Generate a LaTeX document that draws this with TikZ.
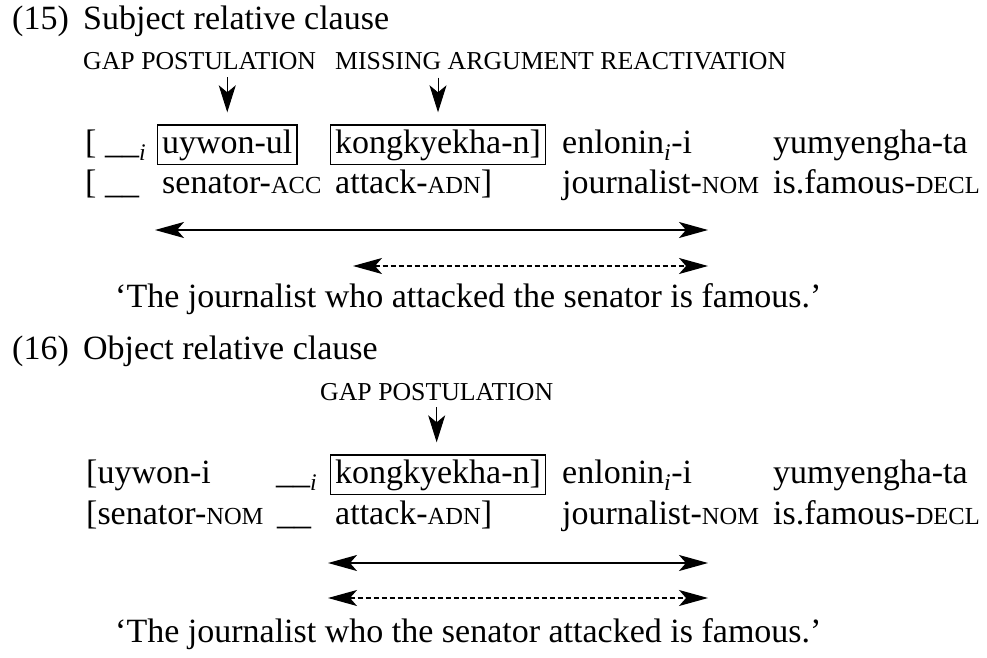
\documentclass[tikz,border=0pt]{standalone}
\usepackage{fontspec}
\setmainfont{Liberation Serif}
\usetikzlibrary{arrows.meta}

\newcommand{\glsc}[1]{{\fontsize{24.5}{24.5}\selectfont #1}}
\newcommand{\idx}{\textsubscript{\itshape i}}

\tikzset{
	word/.style={anchor=base west,inner sep=0pt,font=\fontsize{34}{34}\selectfont},
	boxword/.style={word,draw,line width=1.2pt,inner sep=4.5pt},
	tag/.style={anchor=base west,inner sep=0pt,font=\fontsize{25.8}{25.8}\selectfont},
	cue/.style={-{Stealth[length=27pt,width=17pt,inset=7pt]},line width=1pt},
	span/.style={{Stealth[length=29pt,width=16pt,inset=7pt]}-{Stealth[length=29pt,width=16pt,inset=7pt]},line width=1.8pt},
	dspan/.style={span,line width=1.2pt,dash pattern=on 5pt off 3pt},
}

\begin{document}
\begin{tikzpicture}[x=1pt,y=-1pt]
		\useasboundingbox (0,0) rectangle (987,658);
		% (15) subject relative clause
		\node[word] (n15) at (12,30) {(15)};
		\node[word] (t15) at (83,30) {Subject relative clause};
		\node[tag] (gap1) at (83,70) {GAP POSTULATION};
		\node[tag] (miss1) at (335,70) {MISSING ARGUMENT REACTIVATION};
		\node[word] (a1) at (85,153) {[ \_\_\idx};
		\node[boxword] (a2) at (157,153) {uywon-ul};
		\node[boxword] (a3) at (330,153) {kongkyekha-n]};
		\node[word] (a4) at (562,153) {enlonin\idx-i};
		\node[word] (a5) at (773,153) {yumyengha-ta};
		\node[word] (b1) at (85,193) {[ \_\_};
		\node[word] (b2) at (162,193) {senator-\glsc{ACC}};
		\node[word] (b3) at (335,193) {attack-\glsc{ADN}]};
		\node[word] (b4) at (562,193) {journalist-\glsc{NOM}};
		\node[word] (b5) at (773,193) {is.famous-\glsc{DECL}};
		\coordinate (s1l) at (155,230);
		\coordinate (s1r) at (708,230);
		\coordinate (d1l) at (353,266);
		\coordinate (d1r) at (708,266);
		\node[word] (tr15) at (115,307) {`The journalist who attacked the senator is famous.'};
		\path[cue,shorten <=7pt,shorten >=12pt]
		(gap1.south -| a2.north) edge (a2.north)
		(miss1.south -| a3.north) edge (a3.north);
		\draw[span] (s1l) -- (s1r);
		\draw[dspan] (d1l) -- (d1r);
		% (16) object relative clause
		\node[word] (n16) at (12,359) {(16)};
		\node[word] (t16) at (83,359) {Object relative clause};
		\node[tag] (gap2) at (320,400) {GAP POSTULATION};
		\node[word] (c1) at (86,483) {[uywon-i};
		\node[word] (c2) at (276,483) {\_\_\idx};
		\node[boxword] (c3) at (330,483) {kongkyekha-n]};
		\node[word] (c4) at (562,483) {enlonin\idx-i};
		\node[word] (c5) at (773,483) {yumyengha-ta};
		\node[word] (e1) at (86,524) {[senator-\glsc{NOM}};
		\node[word] (e2) at (277,524) {\_\_};
		\node[word] (e3) at (335,524) {attack-\glsc{ADN}]};
		\node[word] (e4) at (562,524) {journalist-\glsc{NOM}};
		\node[word] (e5) at (773,524) {is.famous-\glsc{DECL}};
		\coordinate (s2l) at (328,563);
		\coordinate (s2r) at (708,563);
		\coordinate (d2l) at (328,598);
		\coordinate (d2r) at (708,598);
		\node[word] (tr16) at (115,642) {`The journalist who the senator attacked is famous.'};
		\path[cue,shorten <=7pt,shorten >=12pt]
		(gap2.south) edge (gap2.south |- c3.north);
		\draw[span] (s2l) -- (s2r);
		\draw[dspan] (d2l) -- (d2r);
\end{tikzpicture}
\end{document}
